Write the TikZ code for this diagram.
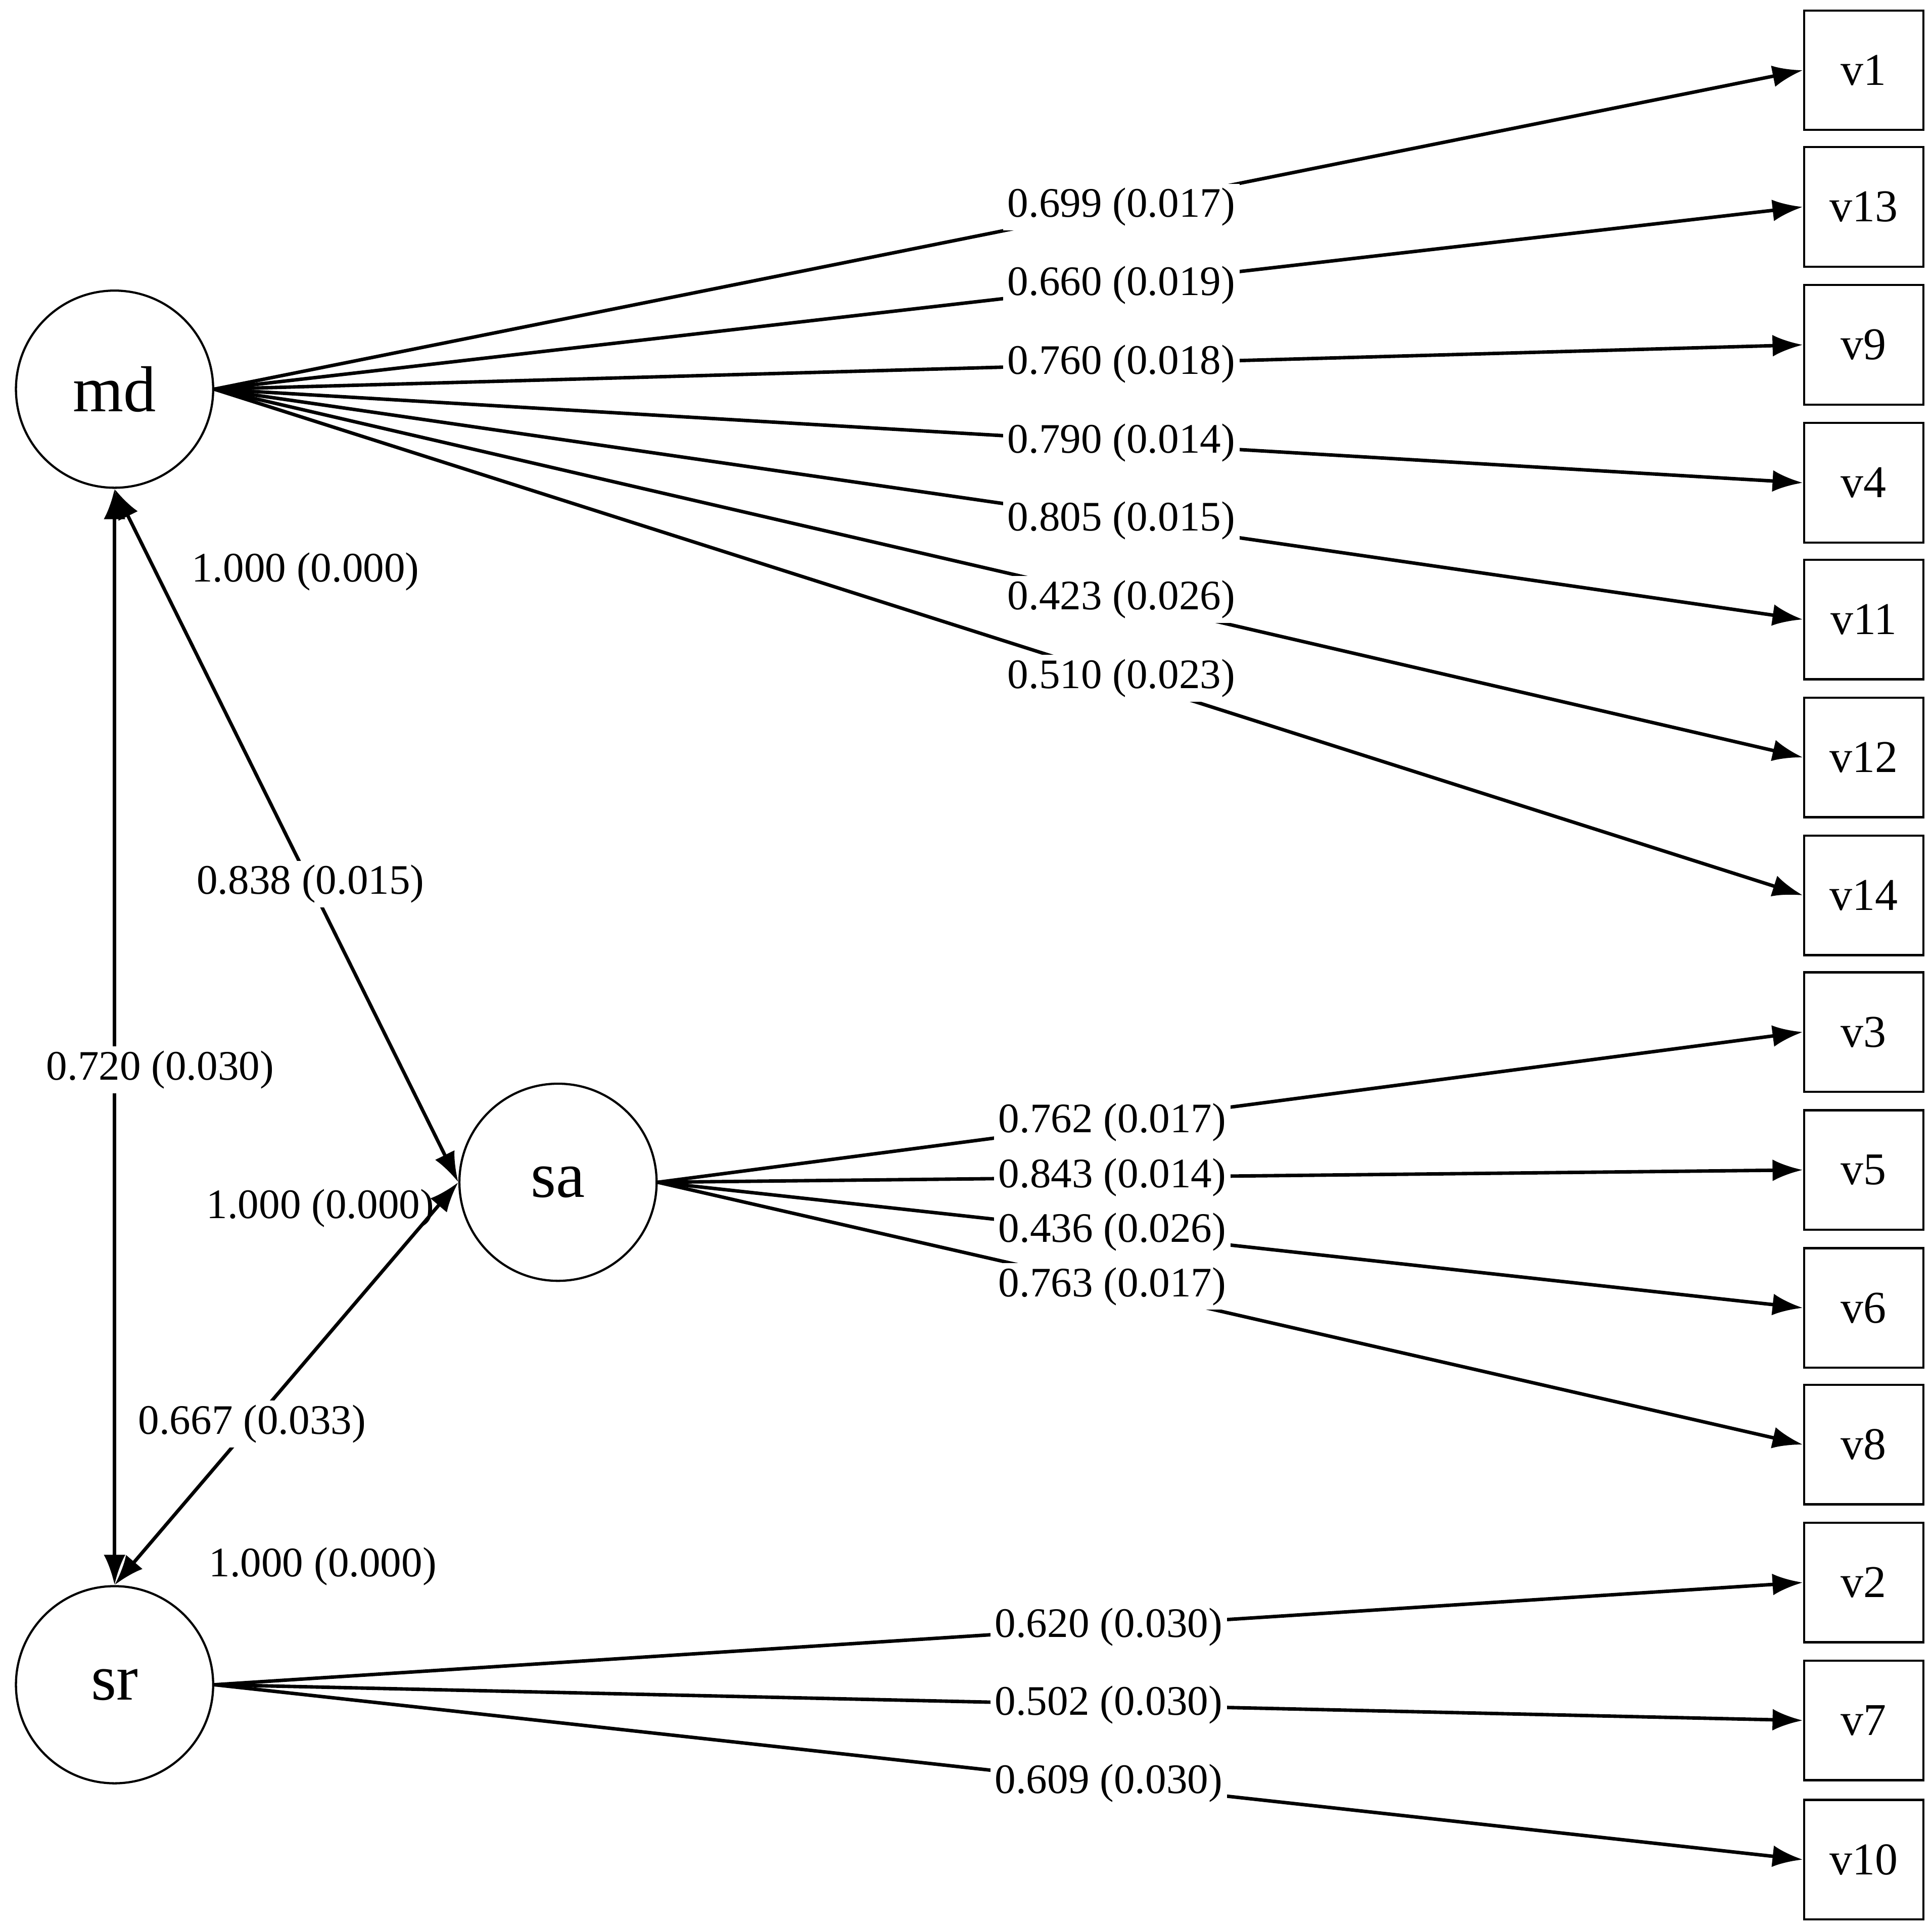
\documentclass[tikz,border=0pt]{standalone}
\usepackage{fontspec}
\setmainfont{Liberation Serif}
\usetikzlibrary{arrows.meta}
\begin{document}
\begin{tikzpicture}[x=0.01cm,y=-0.01cm,
  lat/.style={circle,draw,line width=0.5pt,minimum size=1.6cm,inner sep=0pt,font=\fontsize{15}{17}\selectfont},
  obs/.style={rectangle,draw,line width=0.5pt,minimum width=0.97cm,minimum height=0.97cm,inner sep=0pt,font=\fontsize{10.5}{12}\selectfont},
  ar/.style={line width=0.8pt,-{Latex[length=7pt,width=5pt]}},
  dar/.style={line width=0.8pt,{Latex[length=7pt,width=5pt]}-{Latex[length=7pt,width=5pt]}},
  lab/.style={fill=white,inner sep=1pt,font=\fontsize{9.7}{11}\selectfont},
  txt/.style={inner sep=1pt,font=\fontsize{9.7}{11}\selectfont}]
\useasboundingbox (0,0) rectangle (1568,1568);
\node[lat] (md) at (93,316) {md};
\node[lat] (sa) at (453,960) {sa};
\node[lat] (sr) at (93,1368) {sr};
\foreach \n/\y in {v1/57,v13/168,v9/280,v4/392,v11/503,v12/615,v14/727,v3/838,v5/950,v6/1062,v8/1173,v2/1285,v7/1397,v10/1510}
  \node[obs] (\n) at (1513,\y) {\n};
\foreach \n/\l in {v1/0.699 (0.017),v13/0.660 (0.019),v9/0.760 (0.018),v4/0.790 (0.014),v11/0.805 (0.015),v12/0.423 (0.026),v14/0.510 (0.023)}
  \draw[ar] (md.east) -- node[lab,pos=0.571]{\l} (\n.west);
\foreach \n/\l in {v3/0.762 (0.017),v5/0.843 (0.014),v6/0.436 (0.026),v8/0.763 (0.017)}
  \draw[ar] (sa.east) -- node[lab,pos=0.397]{\l} (\n.west);
\foreach \n/\l in {v2/0.620 (0.030),v7/0.502 (0.030),v10/0.609 (0.030)}
  \draw[ar] (sr.east) -- node[lab,pos=0.563]{\l} (\n.west);
\draw[dar] (md.south) -- node[lab,pos=0.53,xshift=0.37cm]{0.720 (0.030)} (sr.north);
\draw[dar] (md.south) -- node[lab,pos=0.57]{0.838 (0.015)} (sa.west);
\draw[dar] (sa.west) -- node[lab,pos=0.6]{0.667 (0.033)} (sr.north);
\node[txt] (r1) at (248,464) {1.000 (0.000)};
\node[txt] (r2) at (260,981) {1.000 (0.000)};
\node[txt] (r3) at (262,1272) {1.000 (0.000)};
\end{tikzpicture}
\end{document}
